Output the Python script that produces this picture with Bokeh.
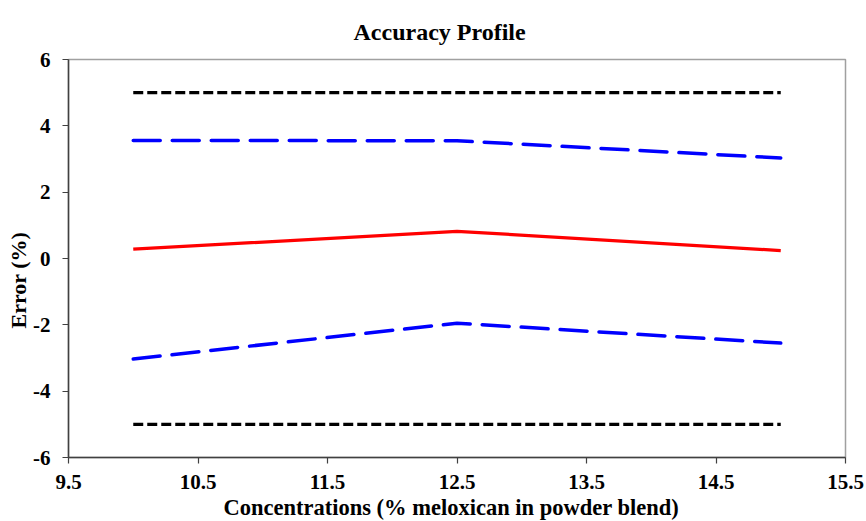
from bokeh.plotting import figure
from bokeh.models import FixedTicker, Title, Range1d
from bokeh.embed import file_html
from bokeh.resources import INLINE

# Data
conc = [10.0, 12.5, 15.0]
mean_error = [0.28, 0.82, 0.24]
upper_tolerance = [3.56, 3.55, 3.03]
lower_tolerance = [-3.03, -1.95, -2.55]
upper_acceptance = [5, 5, 5]
lower_acceptance = [-5, -5, -5]
x_ticks = [9.5, 10.5, 11.5, 12.5, 13.5, 14.5, 15.5]
x_tick_labels = ["9.5", "10.5", "11.5", "12.5", "13.5", "14.5", "15.5"]
y_ticks = [-6, -4, -2, 0, 2, 4, 6]
y_tick_labels = ["-6", "-4", "-2", "0", "2", "4", "6"]

FONT = "Liberation Serif"

p = figure(width=866, height=521, output_backend="svg", toolbar_location=None,
           x_range=Range1d(9.5, 15.5), y_range=Range1d(-6, 6),
           min_border_left=68, min_border_right=21, min_border_top=59, min_border_bottom=62)

p.line(conc, upper_acceptance, line_color="black", line_width=3.2, line_dash="10 4")
p.line(conc, lower_acceptance, line_color="black", line_width=3.2, line_dash="10 4")
p.line(conc, upper_tolerance, line_color="#0000ff", line_width=3.5, line_dash="27 12", line_cap="round")
p.line(conc, lower_tolerance, line_color="#0000ff", line_width=3.5, line_dash="27 12", line_cap="round")
p.line(conc, mean_error, line_color="#ff0000", line_width=3.2)

p.grid.visible = False
p.outline_line_color = "#a0a0a0"
p.outline_line_width = 1.5

for ax in (p.xaxis[0], p.yaxis[0]):
    ax.axis_line_color = "#404040"
    ax.axis_line_width = 1.5
    ax.major_tick_line_color = "#404040"
    ax.major_tick_line_width = 1.2
    ax.major_tick_in = 0
    ax.major_tick_out = 6
    ax.minor_tick_line_color = None
    ax.major_label_text_font = FONT
    ax.major_label_text_font_style = "bold"
    ax.major_label_text_font_size = "21px"
    ax.major_label_text_color = "black"

p.xaxis[0].ticker = FixedTicker(ticks=x_ticks)
p.yaxis[0].ticker = FixedTicker(ticks=y_ticks)
p.xaxis[0].major_label_overrides = dict(zip(x_ticks, x_tick_labels))
p.yaxis[0].major_label_overrides = dict(zip(y_ticks, y_tick_labels))
p.xaxis[0].major_label_standoff = 11
p.yaxis[0].major_label_standoff = 12

p.title = Title(text="Accuracy Profile", align="left", offset=285, standoff=29,
                text_font=FONT, text_font_style="bold", text_font_size="24px",
                text_color="black")

xt = Title(text="Concentrations (% meloxican in powder blend)", align="left", offset=155,
           text_font=FONT, text_font_style="bold", text_font_size="22.5px",
           text_color="black", standoff=3)
p.add_layout(xt, "below")

yt = Title(text="Error (%)", align="left", offset=129,
           text_font=FONT, text_font_style="bold", text_font_size="22px",
           text_color="black", standoff=0)
p.add_layout(yt, "left")

open("out.html", "w").write(file_html(p, INLINE))
